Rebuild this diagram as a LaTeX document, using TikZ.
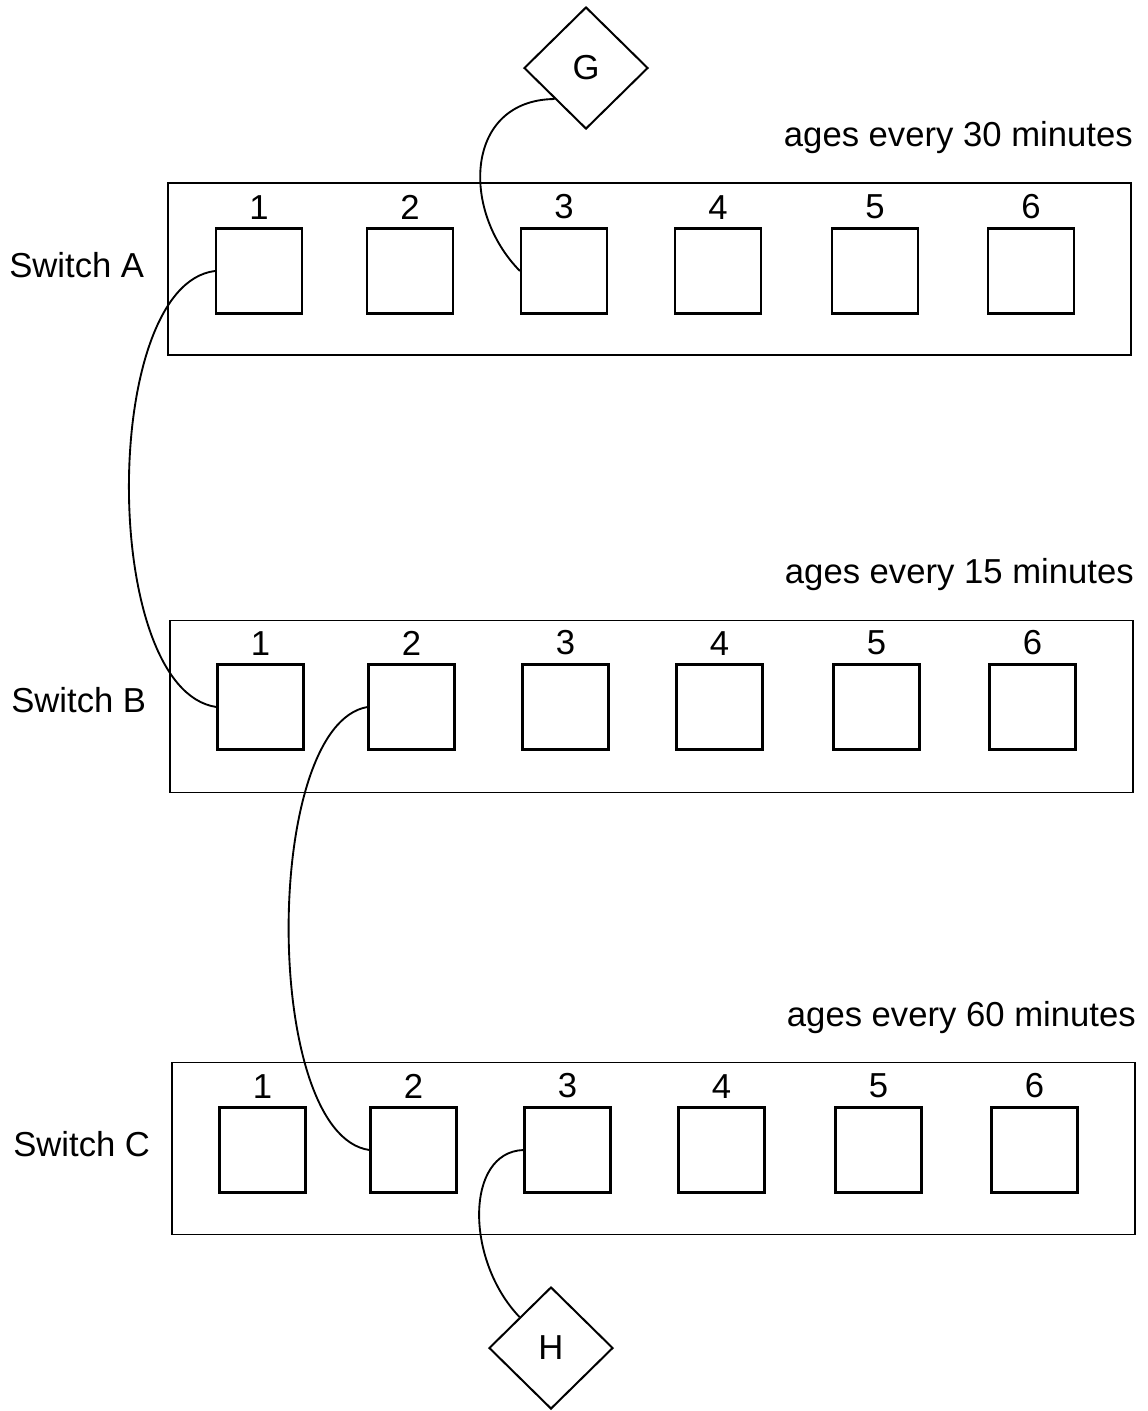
\documentclass[tikz,border=0pt]{standalone}
\usepackage{fontspec}
\setmainfont{Liberation Sans}
\usetikzlibrary{positioning,shapes.geometric}

\tikzset{
  switchbox/.style={draw, line width=1.4pt, minimum width=722pt, minimum height=129pt, inner sep=0pt},
  port/.style={draw, line width=1.6pt, minimum width=64.5pt, minimum height=63.75pt, inner sep=0pt},
  txt/.style={inner sep=0pt, font=\fontsize{26}{31}\selectfont},
  host/.style={draw, diamond, line width=1.5pt, minimum width=93pt, minimum height=91.5pt, inner sep=0pt, font=\fontsize{26}{31}\selectfont},
  cable/.style={line width=1.4pt}
}

\begin{document}
\begin{tikzpicture}[x=0.75pt,y=0.75pt,yscale=-1,xscale=1]
\useasboundingbox (0,0) rectangle (1148,1411);

% switches
\node[switchbox] (swA) at (649.5,269) {};
\node[switchbox] (swB) at (651.5,706.5) {};
\node[switchbox] (swC) at (653.5,1148.5) {};

% switch names
\node[txt, anchor=base west] (labA) at (9,277) {Switch A};
\node[txt, anchor=base west] (labB) at (11,712) {Switch B};
\node[txt, anchor=base west] (labC) at (13,1156) {Switch C};

% ageing times
\node[txt, anchor=base east] (ageA) at (1133,146) {ages every 30 minutes};
\node[txt, anchor=base east] (ageB) at (1134,583) {ages every 15 minutes};
\node[txt, anchor=base east] (ageC) at (1136,1026) {ages every 60 minutes};

% ports
\foreach \s/\dx/\y in {A/0/271, B/1.5/707, C/3.5/1150} {
  \foreach \i/\x in {1/259, 2/410, 3/564, 4/718, 5/875, 6/1031} {
    \node[port] (\s\i) at (\x+\dx,\y) {};
    \node[txt, above=6pt of \s\i] (n\s\i) {\i};
  }
}

% end hosts
\node[host] (G) at (586,68) {G};
\node[host] (H) at (551,1348) {H};

% cables
\draw[cable] (G.south west) .. controls (465,100) and (460,210) .. (A3.west);
\draw[cable] (A1.west) .. controls (100,285) and (100,690) .. (B1.west);
\draw[cable] (B2.west) .. controls (262,725) and (262,1135) .. (C2.west);
\draw[cable] (C3.west) .. controls (465,1152) and (465,1260) .. (H.north west);
\end{tikzpicture}
\end{document}
